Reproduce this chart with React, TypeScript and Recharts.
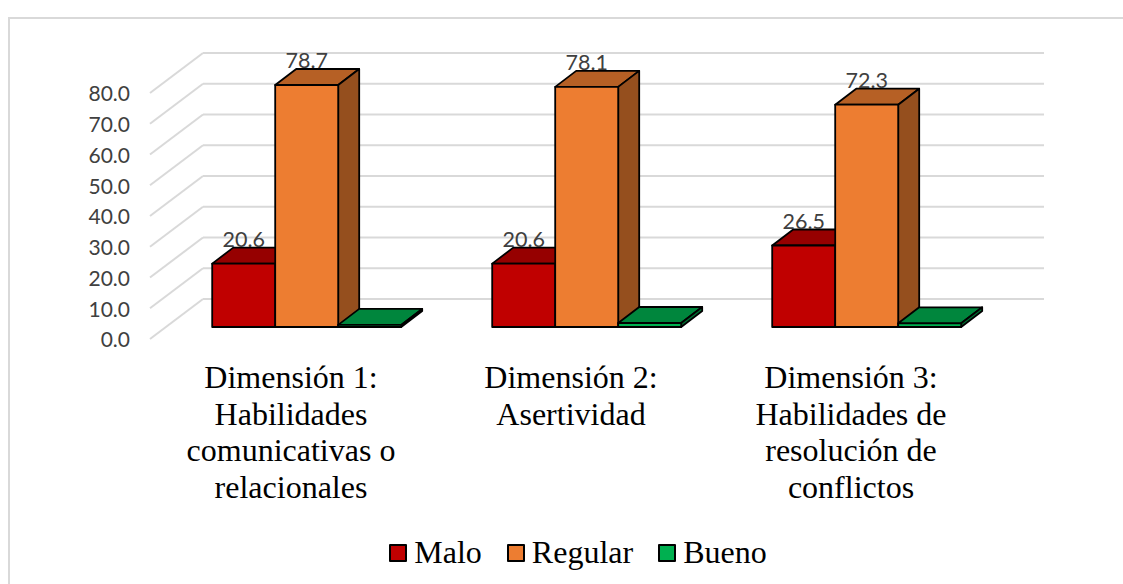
import { Bar, BarChart, CartesianGrid, LabelList, Legend, XAxis, YAxis } from 'recharts';

const categories = [
  'Dimensión 1:\nHabilidades\ncomunicativas o\nrelacionales',
  'Dimensión 2:\nAsertividad',
  'Dimensión 3:\nHabilidades de\nresolución de\nconflictos',
];
const malo = [20.6, 20.6, 26.5];
const regular = [78.7, 78.1, 72.3];
const bueno = [0.7, 1.3, 1.2];
const yTicks = [0, 10, 20, 30, 40, 50, 60, 70, 80];

const data = categories.map((name, i) => ({ name, malo: malo[i], regular: regular[i], bueno: bueno[i] }));

// fake 3D: bars sit part way into the floor, which is WALL_DX/WALL_DY deep
const WALL_DX = 53;
const WALL_DY = 40;
const BAR_SHIFT_X = 16;
const BAR_SHIFT_Y = 12;
const BAR_DX = 21;
const BAR_DY = 16;

const serif = '"Liberation Serif", serif';
const sans = 'Lato, sans-serif';

function Box3D(props: any) {
  const { x, y, width, height, front, top, side } = props;
  const l = x + BAR_SHIFT_X;
  const r = l + width;
  const t = y - BAR_SHIFT_Y;
  const b = t + height;
  return (
    <g stroke="#000" strokeWidth={1.8} strokeLinejoin="round">
      <polygon points={`${l},${t} ${l + BAR_DX},${t - BAR_DY} ${r + BAR_DX},${t - BAR_DY} ${r},${t}`} fill={top} />
      <polygon points={`${r},${t} ${r + BAR_DX},${t - BAR_DY} ${r + BAR_DX},${b - BAR_DY} ${r},${b}`} fill={side} />
      <rect x={l} y={t} width={width} height={height} fill={front} />
    </g>
  );
}

function GridLine(props: any) {
  const { x1, x2, y1 } = props;
  return (
    <g stroke="#D9D9D9" strokeWidth={2} fill="none">
      <line x1={x1} y1={y1} x2={x1 + WALL_DX} y2={y1 - WALL_DY} />
      <line x1={x1 + WALL_DX} y1={y1 - WALL_DY} x2={x2 + WALL_DX + 1} y2={y1 - WALL_DY} />
    </g>
  );
}

function CategoryTick(props: any) {
  const { x, y, payload } = props;
  const lines = String(payload.value).split('\n');
  return (
    <text x={x + 1} y={y} textAnchor="middle" fontFamily={serif} fontSize={32} fill="#000">
      {lines.map((line, i) => (
        <tspan key={line} x={x + 1} dy={i === 0 ? 41 : 36.7}>
          {line}
        </tspan>
      ))}
    </text>
  );
}

function ValueLabel(props: any) {
  const { x, y, width, value } = props;
  return (
    <text
      x={x + BAR_SHIFT_X + width / 2}
      y={y - BAR_SHIFT_Y - 17}
      textAnchor="middle"
      fontFamily={sans}
      fontSize={21.5}
      fill="#404040"
    >
      {Number(value).toFixed(1)}
    </text>
  );
}

const legendItems = [
  { label: 'Malo', color: '#C00000' },
  { label: 'Regular', color: '#ED7D31' },
  { label: 'Bueno', color: '#00B050' },
];

function ChartLegend() {
  return (
    <div
      style={{
        display: 'flex',
        justifyContent: 'center',
        gap: 25,
        height: 47,
        paddingBottom: 8,
        paddingLeft: 166,
        fontFamily: serif,
        fontSize: 32,
        color: '#000',
      }}
    >
      {legendItems.map((item) => (
        <span key={item.label} style={{ display: 'flex', alignItems: 'center', gap: 7 }}>
          <span
            style={{
              width: 14,
              height: 14,
              background: item.color,
              border: '2px solid #000',
              borderRadius: 1,
              display: 'inline-block',
            }}
          />
          {item.label}
        </span>
      ))}
    </div>
  );
}

export default function App() {
  return (
    <div style={{ position: 'absolute', left: 0, top: 0, width: 1123, height: 584, background: '#fff', overflow: 'hidden' }}>
      <div style={{ position: 'absolute', left: 8, top: 17, width: 1200, height: 700, border: '2px solid #D9D9D9' }} />
      <div style={{ position: 'absolute', left: 0, top: 0, width: 1123, height: 584 }}>
        <BarChart
          width={1123}
          height={584}
          data={data}
          margin={{ top: 93, right: 133, left: 0, bottom: 0 }}
          barGap={0}
          barCategoryGap="16.5%"
        >
          <CartesianGrid vertical={false} horizontal={GridLine} />
          <XAxis dataKey="name" axisLine={false} tickLine={false} interval={0} height={190} tick={CategoryTick} />
          <YAxis
            width={150}
            domain={[0, 80]}
            ticks={yTicks}
            axisLine={false}
            tickLine={false}
            tickMargin={20}
            tickSize={0}
            tickFormatter={(v: number) => v.toFixed(1)}
            tick={{ fontFamily: sans, fontSize: 21, fill: '#404040', dy: 1 }}
          />
          <Legend content={ChartLegend} verticalAlign="bottom" />
          <Bar dataKey="malo" isAnimationActive={false} shape={<Box3D front="#C00000" top="#960000" side="#8F0000" />}>
            <LabelList dataKey="malo" content={ValueLabel} />
          </Bar>
          <Bar dataKey="regular" isAnimationActive={false} shape={<Box3D front="#ED7D31" top="#B66025" side="#954F1E" />}>
            <LabelList dataKey="regular" content={ValueLabel} />
          </Bar>
          <Bar dataKey="bueno" isAnimationActive={false} shape={<Box3D front="#00B050" top="#00863D" side="#006F32" />} />
        </BarChart>
      </div>
    </div>
  );
}
